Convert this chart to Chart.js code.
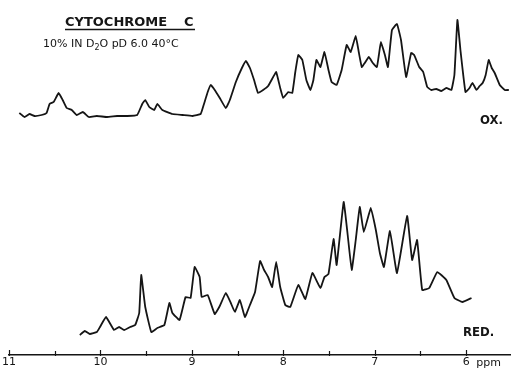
<!DOCTYPE html>
<html>
<head>
<meta charset="utf-8">
<script src="https://cdn.jsdelivr.net/npm/chart.js@4"></script>
<style>
  html, body { margin: 0; padding: 0; background: #fff; }
</style>
</head>
<body>
<canvas id="nmr" width="511" height="370"></canvas>
<script>
// chemical shift (ppm) and signal height (arb. units, trace offset included)
const oxShift = [
  10.887, 10.831, 10.776, 10.721, 10.644, 10.589, 10.556, 10.512, 10.457, 10.413,
  10.369, 10.314, 10.259, 10.193, 10.127, 10.039, 9.928, 9.818, 9.708, 9.598,
  9.543, 9.510, 9.466, 9.411, 9.378, 9.323, 9.213, 9.102, 8.992, 8.904,
  8.871, 8.827, 8.794, 8.750, 8.695, 8.629, 8.585, 8.519, 8.453, 8.409,
  8.365, 8.320, 8.276, 8.221, 8.166, 8.111, 8.078, 8.034, 8.001, 7.946,
  7.902, 7.869, 7.836, 7.792, 7.748, 7.704, 7.671, 7.638, 7.594, 7.550,
  7.506, 7.472, 7.417, 7.362, 7.307, 7.263, 7.208, 7.175, 7.142, 7.109,
  7.065, 7.021, 6.977, 6.955, 6.933, 6.889, 6.856, 6.812, 6.757, 6.713,
  6.657, 6.602, 6.569, 6.514, 6.470, 6.426, 6.382, 6.327, 6.272, 6.217,
  6.162, 6.129, 6.096, 6.063, 6.008, 5.964, 5.931, 5.887, 5.853, 5.820,
  5.787, 5.754, 5.721, 5.688, 5.633, 5.578, 5.534
];
const oxSignal = [
  242, 238, 241, 239, 240, 242, 251, 253, 262, 255,
  247, 245, 240, 243, 238, 239, 238, 239, 239, 240,
  251, 255, 248, 245, 251, 245, 241, 240, 239, 241,
  250, 263, 270, 265, 257, 247, 255, 273, 287, 294,
  287, 275, 262, 265, 269, 278, 283, 267, 257, 263,
  262, 283, 300, 295, 275, 265, 275, 295, 288, 303,
  285, 273, 270, 285, 310, 303, 319, 303, 288, 292,
  298, 292, 288, 300, 313, 300, 288, 325, 331, 315,
  278, 302, 300, 288, 283, 268, 265, 266, 264, 267,
  265, 280, 335, 305, 263, 267, 272, 265, 269, 272,
  280, 295, 287, 282, 270, 265, 265
];
const redShift = [
  10.226, 10.171, 10.116, 10.039, 10.005, 9.939, 9.851, 9.796, 9.741, 9.675,
  9.620, 9.576, 9.554, 9.510, 9.444, 9.378, 9.301, 9.246, 9.213, 9.135,
  9.069, 9.014, 8.970, 8.915, 8.893, 8.827, 8.750, 8.695, 8.629, 8.574,
  8.530, 8.475, 8.420, 8.365, 8.309, 8.254, 8.210, 8.166, 8.122, 8.078,
  8.034, 7.979, 7.924, 7.836, 7.759, 7.682, 7.594, 7.550, 7.506, 7.450,
  7.417, 7.340, 7.296, 7.252, 7.208, 7.164, 7.120, 7.043, 6.988, 6.944,
  6.900, 6.834, 6.757, 6.646, 6.591, 6.537, 6.481, 6.404, 6.316, 6.217,
  6.129, 6.041, 5.942
];
const redSignal = [
  20, 24, 21, 23, 28, 38, 25, 28, 25, 28,
  30, 42, 80, 48, 23, 27, 30, 52, 42, 35,
  58, 57, 88, 78, 58, 60, 41, 49, 62, 52,
  43, 55, 38, 50, 63, 94, 85, 78, 68, 93,
  68, 50, 48, 70, 56, 82, 67, 78, 81, 116,
  90, 153, 120, 85, 115, 148, 123, 147, 125, 102,
  88, 124, 82, 139, 95, 115, 65, 67, 83, 75,
  57, 53, 57
];
const ppmTicks = [11, 10.5, 10, 9.5, 9, 8.5, 8, 7.5, 7, 6.5, 6];

const ink = '#151515';
const toPoints = (xs, ys) => xs.map((x, i) => ({ x: x, y: ys[i] }));

// short tick marks standing up from the ppm axis
const upTicks = {
  id: 'upTicks',
  afterDatasetsDraw(chart) {
    const ctx = chart.ctx;
    const xs = chart.scales.x;
    const base = chart.chartArea.bottom;
    ctx.save();
    ctx.strokeStyle = ink;
    ctx.lineWidth = 1.2;
    ppmTicks.forEach(v => {
      const px = Math.round(xs.getPixelForValue(v)) + 0.5;
      ctx.beginPath();
      ctx.moveTo(px, base + 1);
      ctx.lineTo(px, base - (Number.isInteger(v) ? 5 : 4));
      ctx.stroke();
    });
    ctx.restore();
  }
};

// lettering: title, conditions, trace labels, ppm unit
const lettering = {
  id: 'lettering',
  afterDraw(chart) {
    const ctx = chart.ctx;
    const xs = chart.scales.x;
    ctx.save();
    ctx.fillStyle = ink;
    ctx.strokeStyle = ink;
    ctx.textBaseline = 'alphabetic';

    ctx.font = 'bold 13px "DejaVu Sans"';
    ctx.fillText('CYTOCHROME', 65, 26);
    ctx.fillText('C', 184, 26);
    ctx.lineWidth = 1.5;
    ctx.beginPath();
    ctx.moveTo(65, 29.5);
    ctx.lineTo(195, 29.5);
    ctx.stroke();

    let x = 43;
    const part = (t, dy, font) => {
      ctx.font = font;
      ctx.fillText(t, x, 47 + dy);
      x += ctx.measureText(t).width;
    };
    part('10% IN D', 0, '11px "DejaVu Sans"');
    part('2', 3, '8px "DejaVu Sans"');
    part('O pD 6.0 40°C', 0, '11px "DejaVu Sans"');

    ctx.font = 'bold 13px "DejaVu Sans Condensed", "DejaVu Sans"';
    ctx.fillText('OX.', 480, 124);
    ctx.fillText('RED.', 463, 336);

    ctx.font = '11px "DejaVu Sans"';
    ctx.textBaseline = 'top';
    ctx.fillText('ppm', xs.getPixelForValue(6) + 10, 358);
    ctx.restore();
  }
};

new Chart(document.getElementById('nmr'), {
  type: 'line',
  data: {
    datasets: [
      { label: 'OX.', data: toPoints(oxShift, oxSignal) },
      { label: 'RED.', data: toPoints(redShift, redSignal) }
    ]
  },
  options: {
    responsive: false,
    animation: false,
    events: [],
    layout: { padding: 0 },
    elements: {
      line: { borderColor: ink, borderWidth: 1.8, tension: 0.1, fill: false },
      point: { radius: 0 }
    },
    plugins: { legend: { display: false }, tooltip: { enabled: false } },
    scales: {
      x: {
        type: 'linear',
        reverse: true,
        min: 5.51,
        max: 11,
        afterBuildTicks: s => { s.ticks = ppmTicks.map(v => ({ value: v })); },
        border: { display: true, color: ink, width: 1.5 },
        grid: { display: false, drawTicks: false },
        ticks: {
          autoSkip: false,
          maxRotation: 0,
          padding: 2,
          color: ink,
          font: { family: '"DejaVu Sans"', size: 11, lineHeight: 1 },
          callback: v => Number.isInteger(v) ? String(v) : ''
        }
      },
      y: { display: false, min: 0, max: 355 }
    }
  },
  plugins: [upTicks, lettering]
});
</script>
</body>
</html>
